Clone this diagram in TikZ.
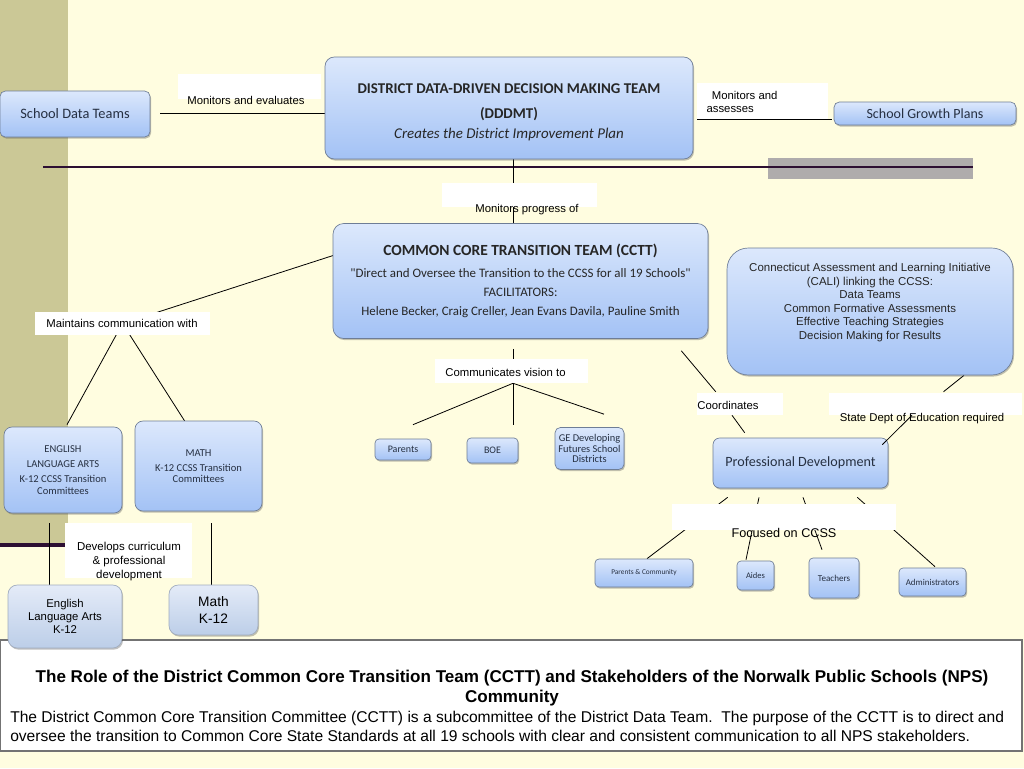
\documentclass[tikz,border=0pt]{standalone}
\usepackage{fontspec}
\setmainfont{Liberation Sans}
\newfontfamily\calibri{Carlito}
\usetikzlibrary{shadows,calc}
\newcommand\myfs[2]{\fontsize{#1}{#2}\selectfont}
\definecolor{bgyel}{RGB}{255,253,224}
\definecolor{olive}{RGB}{203,200,150}
\definecolor{darkln}{RGB}{45,15,50}
\definecolor{grayband}{RGB}{175,172,172}
\definecolor{boxtop}{RGB}{220,232,252}
\definecolor{boxbot}{RGB}{163,194,245}
\definecolor{boxedge}{RGB}{110,125,150}
\definecolor{boxtext}{RGB}{38,48,66}
\definecolor{paletop}{RGB}{228,235,248}
\definecolor{palebot}{RGB}{188,206,232}
\definecolor{paleedge}{RGB}{160,172,190}
\pgfdeclarelayer{back}
\pgfdeclarelayer{lines}
\pgfsetlayers{back,lines,main}
\begin{document}
\begin{tikzpicture}[x=0.75pt,y=-0.75pt,
  sz/.style 2 args={minimum width={#1*0.75pt},minimum height={#2*0.75pt}},
  box/.style={draw=boxedge,line width=0.5pt,rounded corners=4pt,top color=boxtop,bottom color=boxbot,
    drop shadow={shadow xshift=0.8pt,shadow yshift=-1.2pt,opacity=0.35,fill=black!70},
    font=\calibri,text=boxtext,align=center,inner sep=0pt},
  palebox/.style={box,draw=paleedge,top color=paletop,bottom color=palebot,text=black},
  lab/.style={fill=white,inner sep=0pt},
  ltxt/.style={inner sep=0pt,align=center,font=\myfs{8.5}{10}},
  conn/.style={draw=black,line width=0.6pt}]
\useasboundingbox (0,0) rectangle (1024,768);
\begin{pgfonlayer}{back}
  \fill[bgyel] (0,0) rectangle (1024,768);
  \fill[olive] (0,0) rectangle (68,546);
  \fill[grayband] (768,158) rectangle (973,179);
  \draw[darkln,line width=2pt] (43,167) -- (973,167);
  \draw[darkln,line width=3.5pt] (0,545) -- (66,545);
\end{pgfonlayer}

% main boxes
\node[box,sz={150}{46},font=\calibri\myfs{10.8}{12}] (sdt) at (75,114) {School Data Teams};
\node[box,sz={368}{102},rounded corners=7pt,text=black!85,font=\calibri\myfs{11.2}{18.75},text depth=0pt] (dddmt) at (509,108)
  {\raisebox{-4pt}{\textbf{DISTRICT DATA-DRIVEN DECISION MAKING TEAM}}\\
   \raisebox{-4pt}{\textbf{(DDDMT)}}\\[-3.75pt]\raisebox{-4pt}{\textit{Creates the District Improvement Plan}}};
\node[box,sz={182}{23},font=\calibri\myfs{10.5}{12}] (sgp) at (925,113.5) {School Growth Plans};
\node[box,sz={375}{115},rounded corners=8pt,text=black!85,font=\calibri\myfs{9.7}{14.25}] (cctt) at (520.5,281)
  {{\myfs{11.6}{14.25}\textbf{COMMON CORE TRANSITION TEAM (CCTT)}}\\[2.25pt]
   "Direct and Oversee the Transition to the CCSS for all 19 Schools"\\
   FACILITATORS:\\
   Helene Becker, Craig Creller, Jean Evans Davila, Pauline Smith};
\node[box,sz={286}{127},rounded corners=16pt,font=\myfs{8.6}{10.2},text=black!85] (cali) at (870,311.5)
  {Connecticut Assessment and Learning Initiative\\
   (CALI) linking the CCSS:\\ Data Teams\\ Common Formative Assessments\\
   Effective Teaching Strategies\\ Decision Making for Results\\[5pt]\mbox{}};
\node[box,sz={118}{86},rounded corners=6pt,font=\calibri\myfs{7.9}{11.25}] (ela) at (63,470)
  {ENGLISH\\ LANGUAGE ARTS\\ K-12 CCSS Transition\\[-2.25pt] Committees};
\node[box,sz={127}{90},rounded corners=6pt,font=\calibri\myfs{7.9}{11.25}] (mth) at (198.5,466)
  {MATH\\ K-12 CCSS Transition\\[-3pt] Committees};
\node[box,sz={56}{21},rounded corners=3pt,font=\calibri\myfs{7.5}{8}] (par) at (403,449.5) {Parents};
\node[box,sz={51}{25},rounded corners=3pt,font=\calibri\myfs{7.5}{8}] (boe) at (492.5,450.5) {BOE};
\node[box,sz={69}{42},rounded corners=4pt,font=\calibri\myfs{7.8}{8}] (ge) at (589.5,448.5)
  {GE Developing\\ Futures School\\ Districts};
\node[box,sz={175}{50},rounded corners=5pt,font=\calibri\myfs{10.6}{12}] (pd) at (800.5,463) {Professional Development};
\node[box,sz={98}{28},rounded corners=3pt,font=\calibri\myfs{5.5}{7}] (pc) at (644,573) {Parents \& Community};
\node[box,sz={37}{29},rounded corners=3pt,font=\calibri\myfs{6.4}{7}] (aid) at (755.5,575.5) {Aides};
\node[box,sz={50}{40},rounded corners=3pt,font=\calibri\myfs{6.8}{7}] (tch) at (834,578) {Teachers};
\node[box,sz={67}{28},rounded corners=3pt,font=\calibri\myfs{6.7}{7}] (adm) at (932.5,582) {Administrators};

% caption
\node[draw=black!55,line width=0.8pt,fill=white,sz={1022}{111},inner sep=0pt] (cap) at (511,695.5) {};
\node[inner sep=0pt,align=center,font=\myfs{12.8}{15}\bfseries] (capt) at (512,688)
  {The Role of the District Common Core Transition Team (CCTT) and Stakeholders of the Norwalk Public Schools (NPS)\\ Community};
\node[inner sep=0pt,align=left,anchor=west,font=\myfs{11.7}{14.3}] (capb) at (10,726.5)
  {The District Common Core Transition Committee (CCTT) is a subcommittee of the District Data Team.\ \ The purpose of the CCTT is to direct and\\
   oversee the transition to Common Core State Standards at all 19 schools with clear and consistent communication to all NPS stakeholders.};

\node[palebox,sz={114}{63},rounded corners=7pt,font=\myfs{8.5}{9.75}] (elak) at (65,616.5)
  {English\\ Language Arts\\ K-12};
\node[palebox,sz={89}{50},rounded corners=7pt,font=\myfs{10.3}{12.75}] (mthk) at (213.5,610)
  {Math\\ K-12};

% label boxes
\node[lab,sz={143}{25}] (mae) at (249.5,86.5) {};
\node[ltxt] (maet) at (246,100) {Monitors and evaluates};
\node[lab,sz={131}{36}] (maa) at (762.5,101) {};
\node[ltxt,align=left] (maat) at (742,102) {\hspace{4pt}Monitors and\\ assesses};
\node[lab,sz={155}{24}] (mp) at (519.5,195) {};
\node[ltxt] (mpt) at (527,209.5) {Monitors progress of};
\node[lab,sz={175}{23}] (mcw) at (122.5,323.5) {};
\node[ltxt] (mcwt) at (122,323.5) {Maintains communication with};
\node[lab,sz={153}{24}] (cvt) at (511.5,371) {};
\node[ltxt] (cvtt) at (505.5,372.5) {Communicates vision to};
\node[lab,sz={127}{55}] (dev) at (128.5,550.5) {};
\node[ltxt,font=\myfs{8.6}{10.5}] (devt) at (129,562) {Develops curriculum\\ \& professional\\ development};
\node[lab,sz={86}{22}] (crd) at (740,404) {};
\node[ltxt] (crdt) at (728,405) {Coordinates};
\node[lab,sz={193}{22}] (sde) at (925.5,404) {};
\node[ltxt] (sdet) at (922,418.5) {State Dept of Education required};
\node[lab,sz={224}{26}] (foc) at (784,517) {};
\node[ltxt,font=\myfs{9.5}{11}] (foct) at (784,533) {Focused on CCSS};

\coordinate (fan) at ($(cvt.south)+(1.5,0)$);

\begin{pgfonlayer}{lines}
  \draw[conn] ($(sdt.east)+(10,-1)$) -- ($(sdt.east -| dddmt.west)+(0,-1)$);
  \draw[conn] ($(dddmt.east)+(4,11)$) -- ($(sgp.west)+(-2,5.5)$);
  \draw[conn] ($(dddmt.south)+(4,0)$) -- ($(cctt.north)+(-7.5,0)$);
  \draw[conn] ($(cctt.west)+(2,-26)$) -- (mcw.center);
  \draw[conn] (mcw.center) -- ($(ela.north)+(4,-2)$);
  \draw[conn] (mcw.center) -- ($(mth.north)+(-11.5,4)$);
  \draw[conn] ($(ela.south)+(-14,10)$) -- ($(elak.north)+(-16,0)$);
  \draw[conn] ($(mth.south)+(12.5,12)$) -- ($(mthk.north)+(-2.5,0)$);
  \draw[conn] ($(cctt.south)+(-7.5,10)$) -- (fan);
  \draw[conn] (fan) -- ($(par.north)+(10,-14)$);
  \draw[conn] (fan) -- ($(boe.north)+(20.5,-13)$);
  \draw[conn] (fan) -- ($(ge.north)+(14.5,-13)$);
  \draw[conn] ($(cctt.south east)+(-27,12)$) -- ($(crd.north west)+(19,-1)$);
  \draw[conn] ($(crd.south)+(-8,0)$) -- ($(pd.north west)+(32,-5)$);
  \draw[conn] ($(cali.south)+(94,0)$) -- ($(sde.north)+(18,-1)$);
  \draw[conn] ($(pd.south west)+(15,9)$) -- ($(pc.north)+(3,0)$);
  \draw[conn] ($(pd.south)+(-41.5,9)$) -- ($(aid.north)+(-9.5,-1)$);
  \draw[conn] ($(pd.south)+(2.5,9)$) -- ($(tch.north)+(-12,-8)$);
  \draw[conn] ($(pd.south east)+(-31,9)$) -- ($(adm.north)+(2.5,-1)$);
\end{pgfonlayer}
\draw[conn] ($(sde.south)+(-13.5,0)$) -- ($(pd.north east)+(-6,7)$);
\end{tikzpicture}
\end{document}
